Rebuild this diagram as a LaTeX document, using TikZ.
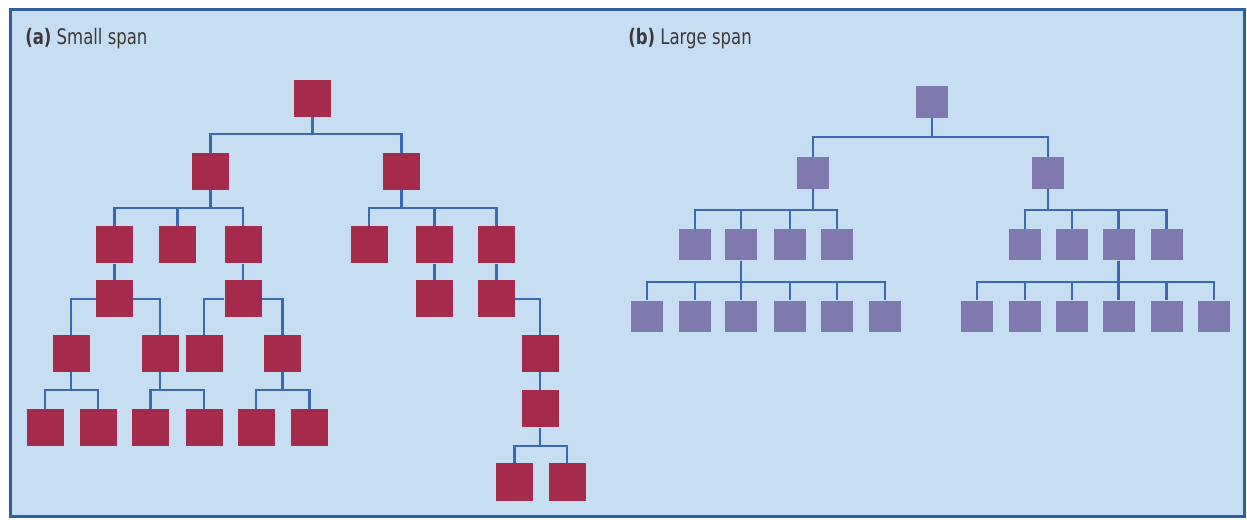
\documentclass[tikz,border=0pt]{standalone}
\usepackage{fontspec}
\newfontfamily\labfont{DejaVu Sans Condensed}
\definecolor{boxred}{HTML}{A62A4C}
\definecolor{boxpurple}{HTML}{7F79AF}
\definecolor{linkblue}{HTML}{3C68B2}
\definecolor{bgblue}{HTML}{C7DEF2}
\definecolor{frameblue}{HTML}{2F5EA6}
\definecolor{labgray}{HTML}{3A3A3A}
\tikzset{
  redbox/.style={fill=boxred, draw=none, inner sep=0pt, minimum size=27.75pt},
  purplebox/.style={fill=boxpurple, draw=none, inner sep=0pt, minimum width=24pt, minimum height=23.5pt},
  link/.style={draw=linkblue, line width=1.6pt},
  bus/.style={to path={-- ++(0,#1) -| (\tikztotarget)}},
  caption/.style={anchor=base west, inner sep=0pt, text=labgray, font=\labfont\fontsize{16pt}{18pt}\selectfont}
}
\begin{document}
\begin{tikzpicture}[x=0.75pt, y=-0.75pt]
\useasboundingbox (0,0) rectangle (1247,520);
\fill[white] (0,0) rectangle (1247,520);
\draw[fill=bgblue, draw=frameblue, line width=2.25pt] (10,10) rectangle (1244,516);

\node[caption] (capa) at (25,45) {\scalebox{0.86}[1]{\textbf{(a)} Small span}};
\node[caption] (capb) at (628,45) {\scalebox{0.86}[1]{\textbf{(b)} Large span}};

% ---------- (a) small span ----------
\node[redbox] (a0) at (312.5,98.5) {};
\node[redbox] (a1) at (210.5,171.5) {};
\node[redbox] (a2) at (401.5,171.5) {};
\node[redbox] (a11) at (114.5,245) {};
\node[redbox] (a12) at (177.5,245) {};
\node[redbox] (a13) at (243,245) {};
\node[redbox] (a21) at (369,245) {};
\node[redbox] (a22) at (434.5,245) {};
\node[redbox] (a23) at (496.5,245) {};
\node[redbox] (a111) at (114.5,299) {};
\node[redbox] (a131) at (243,299) {};
\node[redbox] (a221) at (434.5,299) {};
\node[redbox] (a231) at (496.5,299) {};
\node[redbox] (a1111) at (71,353.5) {};
\node[redbox] (a1112) at (160,353.5) {};
\node[redbox] (a1311) at (204,353.5) {};
\node[redbox] (a1312) at (282.5,353.5) {};
\node[redbox] (a2311) at (540,353.5) {};
\node[redbox] (b1) at (45,427.5) {};
\node[redbox] (b2) at (98,427.5) {};
\node[redbox] (b3) at (150.5,427.5) {};
\node[redbox] (b4) at (204,427.5) {};
\node[redbox] (b5) at (256,427.5) {};
\node[redbox] (b6) at (309.5,427.5) {};
\node[redbox] (c1) at (540,409) {};
\node[redbox] (d1) at (514.5,482) {};
\node[redbox] (d2) at (567,482) {};

\draw[link] (a0.south) to[bus=17] (a1.north);
\draw[link] (a0.south) to[bus=17] (a2.north);
\foreach \c in {a11,a12,a13} \draw[link] (a1.south) to[bus=18] (\c.north);
\foreach \c in {a21,a22,a23} \draw[link] (a2.south) to[bus=18] (\c.north);
\draw[link] (a11) -- (a111);
\draw[link] (a13) -- (a131);
\draw[link] (a22) -- (a221);
\draw[link] (a23) -- (a231);
\draw[link] (a111.west) -| (a1111.north);
\draw[link] (a111.east) -| (a1112.north);
\draw[link] (a131.west) -| (a1311.north);
\draw[link] (a131.east) -| (a1312.north);
\draw[link] (a231.east) -| (a2311.north);
\draw[link] (a1111.south) to[bus=18] (b1.north);
\draw[link] (a1111.south) to[bus=18] (b2.north);
\draw[link] (a1112.south) to[bus=18] (b3.north);
\draw[link] (a1112.south) to[bus=18] (b4.north);
\draw[link] (a1312.south) to[bus=18] (b5.north);
\draw[link] (a1312.south) to[bus=18] (b6.north);
\draw[link] (a2311) -- (c1);
\draw[link] (c1.south) to[bus=18] (d1.north);
\draw[link] (c1.south) to[bus=18] (d2.north);

% ---------- (b) large span ----------
\node[purplebox] (p0) at (932,102) {};
\node[purplebox] (p1) at (812.7,173) {};
\node[purplebox] (p2) at (1048,173) {};
\node[purplebox] (p11) at (694.6,244.7) {};
\node[purplebox] (p12) at (741.3,244.7) {};
\node[purplebox] (p13) at (789.7,244.7) {};
\node[purplebox] (p14) at (837,244.7) {};
\node[purplebox] (p21) at (1024.6,244.7) {};
\node[purplebox] (p22) at (1071.8,244.7) {};
\node[purplebox] (p23) at (1118.5,244.7) {};
\node[purplebox] (p24) at (1166.5,244.7) {};
\node[purplebox] (q1) at (647.4,316.3) {};
\node[purplebox] (q2) at (694.6,316.3) {};
\node[purplebox] (q3) at (741.3,316.3) {};
\node[purplebox] (q4) at (789.7,316.3) {};
\node[purplebox] (q5) at (837,316.3) {};
\node[purplebox] (q6) at (884.8,316.3) {};
\node[purplebox] (r1) at (976.7,316.3) {};
\node[purplebox] (r2) at (1024.6,316.3) {};
\node[purplebox] (r3) at (1071.8,316.3) {};
\node[purplebox] (r4) at (1118.5,316.3) {};
\node[purplebox] (r5) at (1166.5,316.3) {};
\node[purplebox] (r6) at (1214,316.3) {};

\draw[link] (p0.south) to[bus=19] (p1.north);
\draw[link] (p0.south) to[bus=19] (p2.north);
\foreach \c in {p11,p12,p13,p14} \draw[link] (p1.south) to[bus=21] (\c.north);
\foreach \c in {p21,p22,p23,p24} \draw[link] (p2.south) to[bus=21] (\c.north);
\foreach \c in {q1,q2,q3,q4,q5,q6} \draw[link] (p12.south) to[bus=21] (\c.north);
\foreach \c in {r1,r2,r3,r4,r5,r6} \draw[link] (p23.south) to[bus=21] (\c.north);
\end{tikzpicture}
\end{document}
